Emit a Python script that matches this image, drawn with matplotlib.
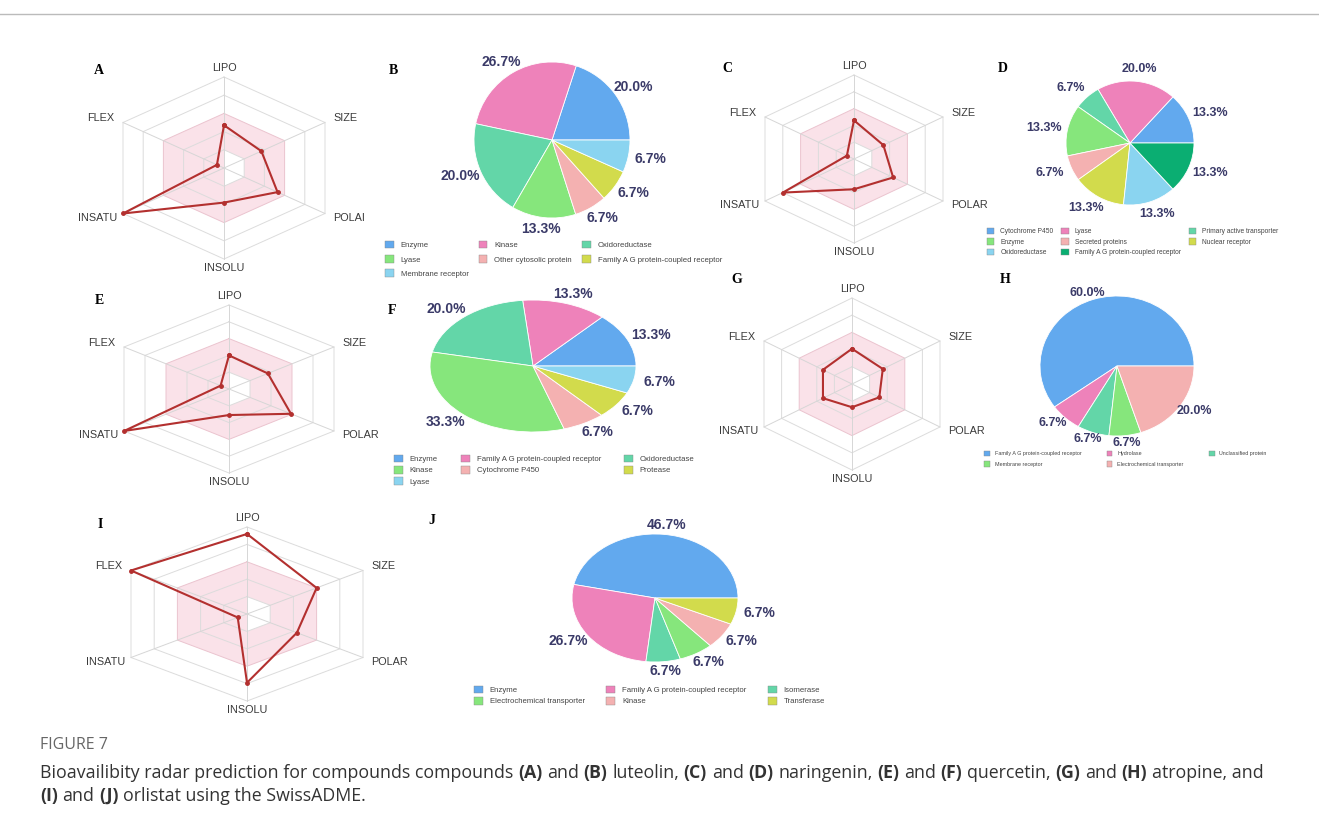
import numpy as np
import matplotlib.pyplot as plt
from matplotlib.patches import Patch
from matplotlib.lines import Line2D

W, H = 1319, 827

# radar axes (SwissADME bioavailability radar)
radar_axes = ['LIPO', 'SIZE', 'POLAR', 'INSOLU', 'INSATU', 'FLEX']
radar_axes_A = ['LIPO', 'SIZE', 'POLAI', 'INSOLU', 'INSATU', 'FLEX']
radar_A = [0.47, 0.37, 0.53, 0.38, 1.00, 0.07]   # luteolin
radar_C = [0.46, 0.33, 0.44, 0.36, 0.80, 0.08]   # naringenin
radar_E = [0.40, 0.37, 0.59, 0.31, 1.00, 0.08]   # quercetin
radar_G = [0.41, 0.35, 0.31, 0.27, 0.33, 0.33]   # atropine
radar_I = [0.92, 0.60, 0.43, 0.79, 0.08, 1.00]   # orlistat

# target class pies
pie_B_labels = ['Enzyme', 'Kinase', 'Oxidoreductase', 'Lyase', 'Other cytosolic protein',
                'Family A G protein-coupled receptor', 'Membrane receptor']
pie_B = [20.0, 26.7, 20.0, 13.3, 6.7, 6.7, 6.7]

pie_D_labels = ['Cytochrome P450', 'Lyase', 'Primary active transporter', 'Enzyme',
                'Secreted proteins', 'Nuclear receptor', 'Oxidoreductase',
                'Family A G protein-coupled receptor']
pie_D = [13.3, 20.0, 6.7, 13.3, 6.7, 13.3, 13.3, 13.3]

pie_F_labels = ['Enzyme', 'Family A G protein-coupled receptor', 'Oxidoreductase', 'Kinase',
                'Cytochrome P450', 'Protease', 'Lyase']
pie_F = [13.3, 13.3, 20.0, 33.3, 6.7, 6.7, 6.7]

pie_H_labels = ['Family A G protein-coupled receptor', 'Hydrolase', 'Unclassified protein',
                'Membrane receptor', 'Electrochemical transporter']
pie_H = [60.0, 6.7, 6.7, 6.7, 20.0]

pie_J_labels = ['Enzyme', 'Family A G protein-coupled receptor', 'Isomerase',
                'Electrochemical transporter', 'Kinase', 'Transferase']
pie_J = [46.7, 26.7, 6.7, 6.7, 6.7, 6.7]

blue, pink, teal, green = '#62a9ee', '#ee82ba', '#63d6a8', '#86e67c'
lpink, yellow, lblue, dgreen = '#f4b1b1', '#d2db4c', '#8ad4f0', '#0bae72'
cols_B = [blue, pink, teal, green, lpink, yellow, lblue]
cols_D = [blue, pink, teal, green, lpink, yellow, lblue, dgreen]
cols_F = [blue, pink, teal, green, lpink, yellow, lblue]
cols_H = [blue, pink, teal, green, lpink]
cols_J = [blue, pink, teal, green, lpink, yellow]

plt.rcParams['font.family'] = ['Liberation Sans', 'DejaVu Sans']
fig = plt.figure(figsize=(W / 100, H / 100), dpi=100)


def box(cx, cy, hw, hh):
    return [(cx - hw) / W, 1 - (cy + hh) / H, 2 * hw / W, 2 * hh / H]


ang = np.deg2rad([90, 30, -30, -90, -150, 150])


def radar(cx, cy, sw, sh, vals, labels, letter, lpos):
    L = 1.3
    ax = fig.add_axes(box(cx, cy, L * sw / np.cos(np.pi / 6), L * sh))
    ax.set_xlim(-L, L)
    ax.set_ylim(-L, L)
    ax.axis('off')
    c, s = np.cos(ang), np.sin(ang)
    cc, ss = np.append(c, c[0]), np.append(s, s[0])
    ax.fill(0.6 * c, 0.6 * s, color='#fae2e9', lw=0)
    ax.fill([0, 0.2 * c[1], 0.2 * c[2], 0], [0.2, 0.2 * s[1], 0.2 * s[2], -0.2],
            color='white', lw=0)
    for r in [0.2, 0.4, 0.6, 0.8, 1.0]:
        ax.plot(r * cc, r * ss, color='#ebc4cf' if r == 0.6 else '#dcdcdc', lw=0.7)
    for i in range(6):
        ax.plot([0, c[i]], [0, s[i]], color='#d6d6d6', lw=0.7)
    v = np.array(vals)
    ax.plot(np.append(v * c, v[0] * c[0]), np.append(v * s, v[0] * s[0]),
            color='#b3302f', lw=1.5, marker='o', ms=2.5)
    offs = [((0, 6.5), 'center'), ((6, 3), 'left'), ((6, -3), 'left'),
            ((0, -6.5), 'center'), ((-4, -3), 'right'), ((-6, 3), 'right')]
    for i, lab in enumerate(labels):
        o, ha = offs[i]
        ax.annotate(lab, (c[i], s[i]), xytext=o, textcoords='offset points',
                    ha=ha, va='center', fontsize=7.8, color='#3a3a3a',
                    annotation_clip=False)
    fig.text(lpos[0] / W, 1 - lpos[1] / H, letter, fontsize=10, fontweight='bold',
             family='Liberation Serif', ha='center', va='center')


def order3(items):
    n = len(items)
    nr = int(np.ceil(n / 3))
    return [items[r * 3 + c] for c in range(3) for r in range(nr) if r * 3 + c < n]


def pie(cx, cy, rx, ry, vals, labels, colors, letter, lpos, legpos, fs, lfs, ls, cs, pd=1.15):
    L = 1.3
    ax = fig.add_axes(box(cx, cy, L * rx, L * ry))
    wedges, _ = ax.pie(vals, colors=colors, startangle=0, counterclock=True,
                       wedgeprops=dict(edgecolor='white', linewidth=0.6))
    for w, v in zip(wedges, vals):
        a = np.deg2rad((w.theta1 + w.theta2) / 2)
        ax.annotate(f'{v:.1f}%', (pd * np.cos(a), pd * np.sin(a)),
                    xytext=(8 * np.cos(a), 0), textcoords='offset points',
                    ha='center', va='center', annotation_clip=False,
                    fontsize=fs, fontweight='bold', color='#3a3a68')
    ax.set_xlim(-L, L)
    ax.set_ylim(-L, L)
    ax.set_aspect('auto')
    handles = [Patch(facecolor=c, edgecolor='#888888', lw=0.3, label=l)
               for c, l in zip(colors, labels)]
    fig.legend(handles=order3(handles), loc='upper left',
               bbox_to_anchor=(legpos[0] / W, 1 - legpos[1] / H),
               ncol=3, fontsize=lfs, frameon=False, handlelength=1.1,
               handleheight=1.1, handletextpad=0.9, labelspacing=ls,
               columnspacing=cs, borderaxespad=0, borderpad=0, labelcolor='#444444')
    fig.text(lpos[0] / W, 1 - lpos[1] / H, letter, fontsize=10, fontweight='bold',
             family='Liberation Serif', ha='center', va='center')


radar(224, 168, 101, 91, radar_A, radar_axes_A, 'A', (99, 70))
radar(854, 159, 89, 84, radar_C, radar_axes, 'C', (727, 68))
radar(229, 389, 105, 84, radar_E, radar_axes, 'E', (99, 300))
radar(852, 384, 88, 86, radar_G, radar_axes, 'G', (737, 280))
radar(247, 614, 116, 87, radar_I, radar_axes, 'I', (100, 525))

pie(552, 140, 78, 78, pie_B, pie_B_labels, cols_B, 'B', (393, 70), (385, 241), 10, 5.6, 0.75, 1.3)
pie(1130, 143, 64, 62, pie_D, pie_D_labels, cols_D, 'D', (1003, 68), (987, 228), 9, 4.8, 0.45, 1.2, 1.2)
pie(533, 366, 103, 66, pie_F, pie_F_labels, cols_F, 'F', (392, 310), (394, 455), 10, 5.6, 0.35, 3.0)
pie(1117, 366, 77, 70, pie_H, pie_H_labels, cols_H, 'H', (1005, 280), (984, 451), 9, 3.9, 0.9, 4.6, 1.1)
pie(655, 598, 83, 64, pie_J, pie_J_labels, cols_J, 'J', (432, 520), (474, 686), 10, 5.6, 0.35, 2.8)

# frame line and caption
fig.add_artist(Line2D([0, 1], [1 - 14 / H, 1 - 14 / H], transform=fig.transFigure,
                      color='#bbbbbb', lw=1))
fig.text(40 / W, 1 - 745 / H, 'FIGURE 7', fontsize=11.5, color='#666666',
         family='Open Sans', va='center')

cap_lines = [
    [('Bioavailibity radar prediction for compounds compounds', 0), ('(A)', 1), ('and', 0),
     ('(B)', 1), ('luteolin,', 0), ('(C)', 1), ('and', 0), ('(D)', 1), ('naringenin,', 0),
     ('(E)', 1), ('and', 0), ('(F)', 1), ('quercetin,', 0), ('(G)', 1), ('and', 0),
     ('(H)', 1), ('atropine, and', 0)],
    [('(I)', 1), ('and', 0), ('(J)', 1), ('orlistat using the SwissADME.', 0)],
]
cap_y = [772, 795]
for line, y in zip(cap_lines, cap_y):
    prev = None
    for txt, b in line:
        kw = dict(fontsize=12.8, color='#333333', family='Open Sans',
                  fontweight='bold' if b else 'normal', va='bottom')
        if prev is None:
            prev = fig.text(40 / W, 1 - (y + 10) / H, txt, **kw)
        else:
            prev = fig.add_artist(plt.Annotation(txt, xy=(1, 0), xycoords=prev,
                                                 xytext=(3.4, 0), textcoords='offset points', **kw))

fig.savefig('out.png', dpi=100)
